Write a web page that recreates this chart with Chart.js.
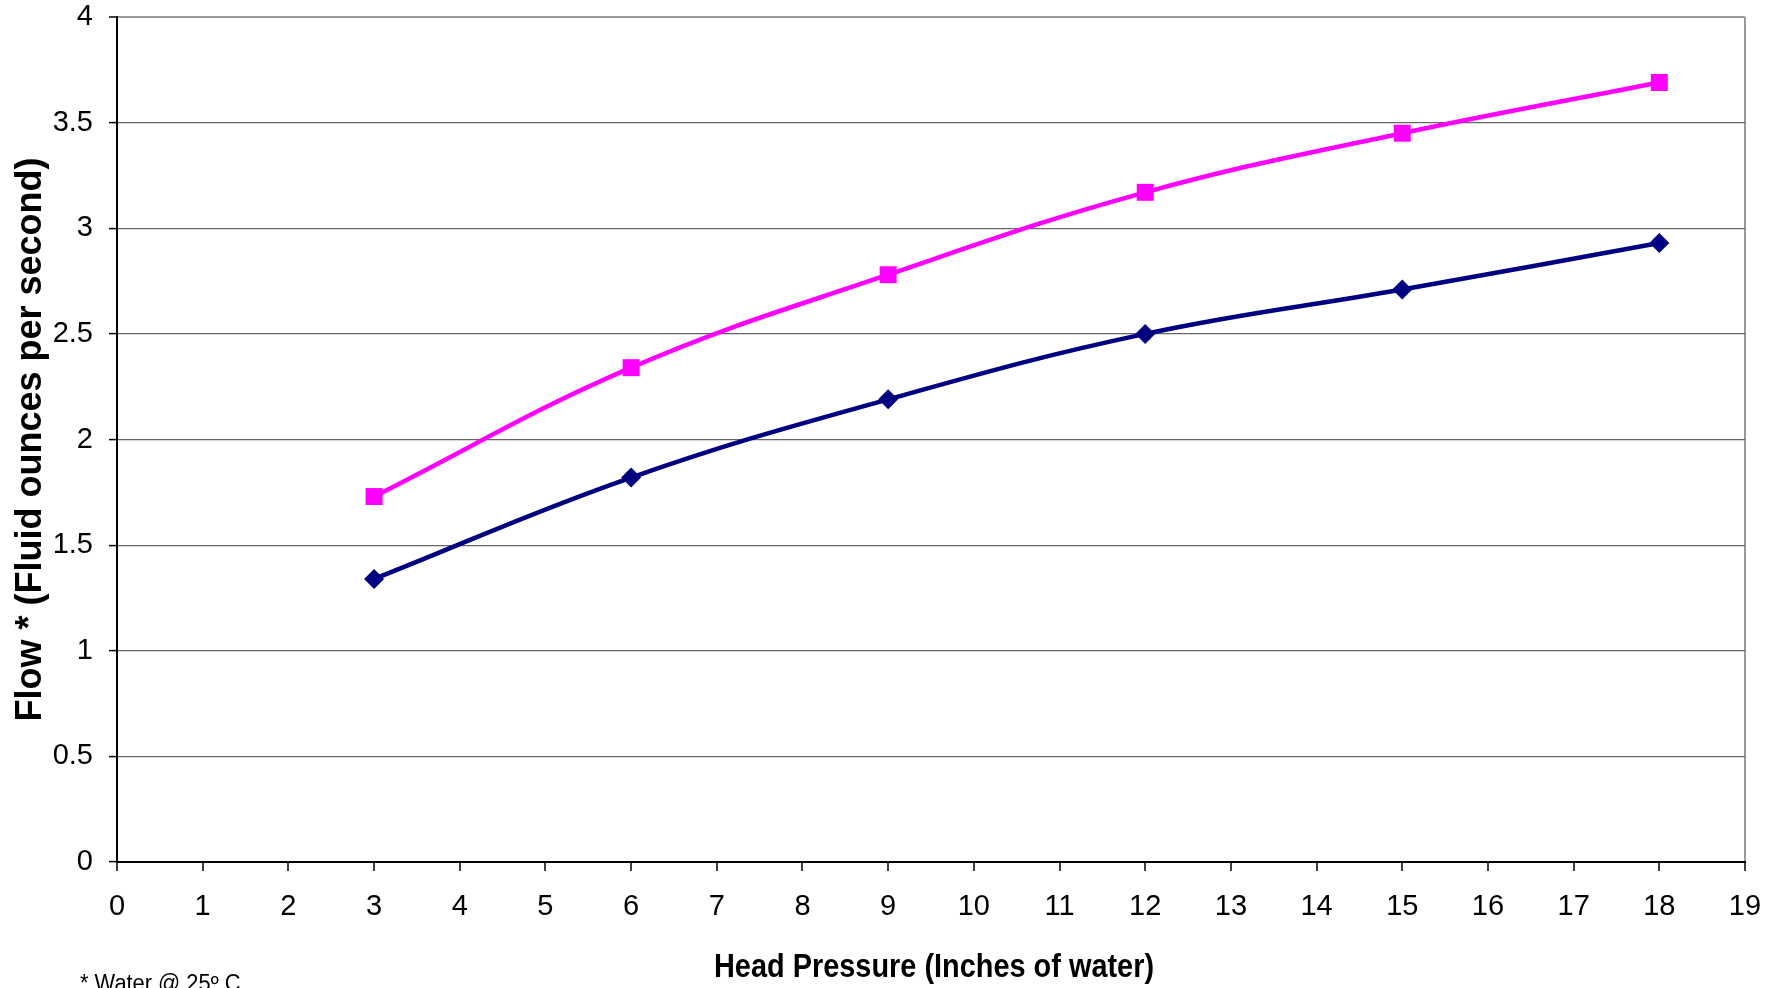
<!DOCTYPE html>
<html>
<head>
<meta charset="utf-8">
<script src="https://cdn.jsdelivr.net/npm/chart.js@4/dist/chart.umd.min.js"></script>
<style>
  html, body { margin: 0; padding: 0; background: #fff; }
  canvas { display: block; }
</style>
</head>
<body>
<canvas id="flowChart" width="1778" height="988"></canvas>
<script>
// head pressure (inches of water) and flow readings
var pressure = [3, 6, 9, 12, 15, 18];
var flowUpper = [1.73, 2.34, 2.78, 3.17, 3.45, 3.69];
var flowLower = [1.34, 1.82, 2.19, 2.50, 2.71, 2.93];

var xTicks = [0, 1, 2, 3, 4, 5, 6, 7, 8, 9, 10, 11, 12, 13, 14, 15, 16, 17, 18, 19];
var yTicks = [0, 0.5, 1, 1.5, 2, 2.5, 3, 3.5, 4];

var xTitle = 'Head Pressure (Inches of water)';
var yTitle = 'Flow * (Fluid ounces per second)';
var footnote = '* Water @ 25\u00BA C';

function toPoints(xs, ys) {
    return xs.map(function (x, i) { return {x: x, y: ys[i]}; });
}

// the x title and the footnote are set in a condensed face, so squeeze them by hand
var narrowTextPlugin = {
    id: 'narrowText',
    afterDraw: function (chart) {
        var ctx = chart.ctx;
        var area = chart.chartArea;
        ctx.save();
        ctx.fillStyle = '#000';
        ctx.textBaseline = 'middle';
        ctx.textAlign = 'center';
        ctx.font = 'bold 34px "Liberation Sans", Arial, sans-serif';
        ctx.translate((area.left + area.right) / 2 + 3, 968);
        ctx.scale(0.85, 1);
        ctx.fillText(xTitle, 0, 0);
        ctx.restore();

        ctx.save();
        ctx.fillStyle = '#000';
        ctx.textBaseline = 'alphabetic';
        ctx.textAlign = 'left';
        ctx.font = '23px "Liberation Sans", Arial, sans-serif';
        ctx.translate(80, 991);
        ctx.scale(0.95, 1);
        ctx.fillText(footnote, 0, 0);
        ctx.restore();
    }
};

var flowChartCanvas = document.getElementById("flowChart");
var flowChart = new Chart(flowChartCanvas, {
    type: 'line',
    data: {
        datasets: [
            {
                label: "Upper",
                data: toPoints(pressure, flowUpper),
                borderColor: '#FF00FF',
                backgroundColor: '#FF00FF',
                borderWidth: 4.5,
                pointStyle: 'rect',
                pointRadius: 12,
                pointBorderWidth: 0,
                tension: 0.4,
                fill: false
            },
            {
                label: "Lower",
                data: toPoints(pressure, flowLower),
                borderColor: '#000080',
                backgroundColor: '#000080',
                borderWidth: 4.5,
                pointStyle: 'rectRot',
                pointRadius: 10,
                pointBorderWidth: 0,
                tension: 0.4,
                fill: false
            }
        ]
    },
    options: {
        responsive: false,
        animation: false,
        layout: {
            padding: {top: 17, right: 33, left: 0, bottom: 0}
        },
        plugins: {
            legend: {display: false},
            tooltip: {enabled: false}
        },
        scales: {
            x: {
                type: 'linear',
                min: 0,
                max: 19,
                afterFit: function (scale) {
                    scale.height = 126;
                    scale.paddingLeft = 0;
                    scale.paddingRight = 0;
                },
                afterBuildTicks: function (scale) {
                    scale.ticks = xTicks.map(function (v) { return {value: v}; });
                },
                ticks: {
                    color: '#000',
                    padding: 19,
                    maxRotation: 0,
                    autoSkip: false,
                    font: {family: '"Liberation Sans", Arial, sans-serif', size: 29},
                    callback: function (v) { return String(v); }
                },
                grid: {
                    color: function (c) { return c.tick && c.tick.value === 19 ? '#999' : 'rgba(0,0,0,0)'; },
                    lineWidth: 2,
                    tickColor: '#000',
                    tickLength: 9,
                    tickWidth: 1.5
                },
                border: {display: true, color: '#000', width: 2}
            },
            y: {
                min: 0,
                max: 4,
                afterFit: function (scale) {
                    scale.width = 117;
                    scale.paddingTop = 0;
                    scale.paddingBottom = 0;
                },
                afterBuildTicks: function (scale) {
                    scale.ticks = yTicks.map(function (v) { return {value: v}; });
                },
                ticks: {
                    color: '#000',
                    padding: 16,
                    font: {family: '"Liberation Sans", Arial, sans-serif', size: 29},
                    callback: function (v) { return String(v); }
                },
                grid: {
                    color: function (c) {
                        if (!c.tick) return '#666';
                        if (c.tick.value === 0) return 'rgba(0,0,0,0)';
                        if (c.tick.value === 4) return '#999';
                        return '#666';
                    },
                    lineWidth: function (c) { return c.tick && c.tick.value === 4 ? 2 : 1.2; },
                    tickColor: '#000',
                    tickLength: 8,
                    tickWidth: 1.5
                },
                border: {display: true, color: '#000', width: 2},
                title: {
                    display: true,
                    text: yTitle,
                    color: '#000',
                    padding: {top: 9, bottom: 0},
                    font: {family: '"Liberation Sans", Arial, sans-serif', size: 36, weight: 'bold'}
                }
            }
        }
    },
    plugins: [narrowTextPlugin]
});
</script>
</body>
</html>
